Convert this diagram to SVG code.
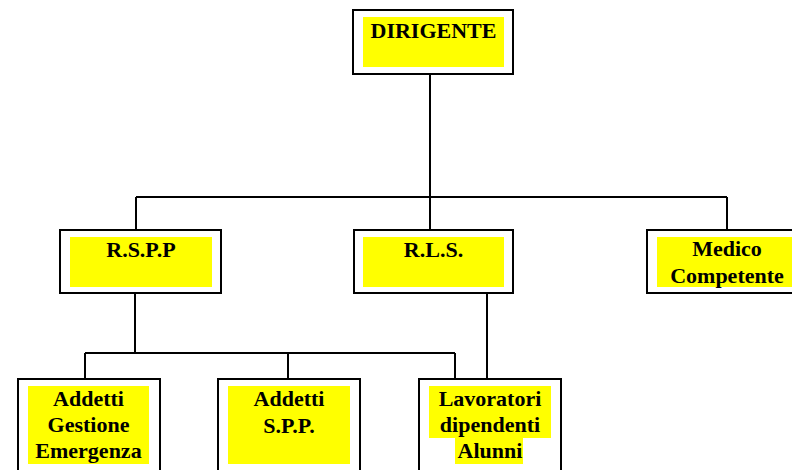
<svg xmlns="http://www.w3.org/2000/svg" width="792" height="470" viewBox="0 0 792 470">
<style>
.box{fill:#fff;stroke:#000;stroke-width:2}
.hl{fill:#ffff00;stroke:none}
.t{font-family:"Liberation Serif","Times New Roman",serif;font-weight:bold;font-size:22px;fill:#000;text-anchor:middle}
.c{stroke:#000;stroke-width:2;fill:none}
</style>
<rect width="792" height="470" fill="#fff"/>
<g id="connectors">
<path class="c" d="M430,75V197M136,197H727M136,197V229M430,197V229M727,197V229"/>
<path class="c" d="M135,294V353M85,353H455M85,353V378M288,353V378M455,353V378M487,294V378"/>
</g>
<g id="dirigente">
<rect class="box" x="353" y="10" width="160" height="64"/>
<rect class="hl" x="363" y="17" width="141" height="50"/>
<text class="t" x="433.5" y="38">DIRIGENTE</text>
</g>
<g id="rspp">
<rect class="box" x="60" y="230" width="161" height="63"/>
<rect class="hl" x="70" y="237" width="142" height="50"/>
<text class="t" x="141" y="257">R.S.P.P</text>
</g>
<g id="rls">
<rect class="box" x="354" y="230" width="159" height="63"/>
<rect class="hl" x="363" y="237" width="141" height="50"/>
<text class="t" x="433.5" y="257">R.L.S.</text>
</g>
<g id="medico">
<rect class="box" x="647" y="230" width="160" height="63"/>
<rect class="hl" x="657" y="237" width="140" height="50"/>
<text class="t" x="727" y="256">Medico</text>
<text class="t" x="727" y="283">Competente</text>
</g>
<g id="addetti-gestione">
<rect class="box" x="18" y="379" width="142" height="100"/>
<rect class="hl" x="28" y="386" width="121" height="78"/>
<text class="t" x="88.5" y="406">Addetti</text>
<text class="t" x="88.5" y="432">Gestione</text>
<text class="t" x="88.5" y="458">Emergenza</text>
</g>
<g id="addetti-spp">
<rect class="box" x="218" y="379" width="142" height="100"/>
<rect class="hl" x="228" y="386" width="122" height="78"/>
<text class="t" x="289" y="406">Addetti</text>
<text class="t" x="289" y="433">S.P.P.</text>
</g>
<g id="lavoratori">
<rect class="box" x="419" y="379" width="142" height="100"/>
<rect class="hl" x="429" y="386" width="122" height="52"/>
<rect class="hl" x="455" y="438" width="68" height="26"/>
<text class="t" x="490" y="406">Lavoratori</text>
<text class="t" x="490" y="432">dipendenti</text>
<text class="t" x="490" y="458">Alunni</text>
</g>
</svg>
